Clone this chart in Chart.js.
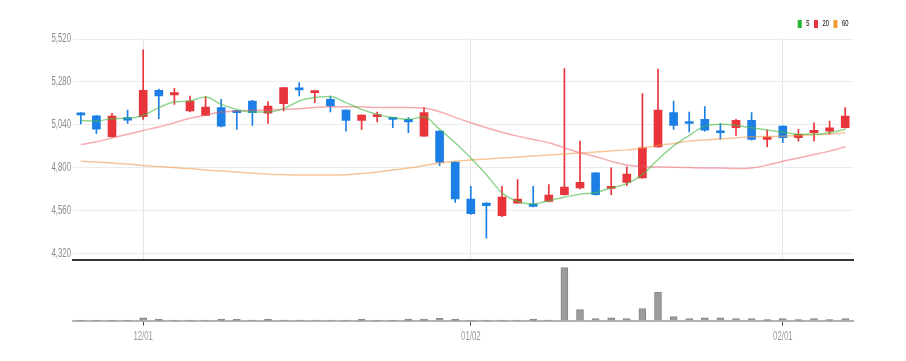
<!DOCTYPE html>
<html><head><meta charset="utf-8">
<script src="https://cdn.jsdelivr.net/npm/chart.js@4.4.1/dist/chart.umd.min.js"></script>
<style>
html,body{margin:0;padding:0;background:#fff;width:906px;height:361px;overflow:hidden}
#wrapTop{position:absolute;left:0;top:0;width:906px;height:261px}
#wrapVol{position:absolute;left:0;top:261px;width:906px;height:100px}
</style></head><body>
<div id="wrapTop"><canvas id="top"></canvas></div>
<div id="wrapVol"><canvas id="vol"></canvas></div>
<script>
const dates = ['11/25','11/26','11/27','11/28','12/01','12/02','12/03','12/04','12/05','12/08','12/09','12/10','12/11','12/12','12/15','12/16','12/17','12/18','12/19','12/22','12/23','12/24','12/26','12/29','12/30','01/02','01/05','01/06','01/07','01/08','01/09','01/12','01/13','01/14','01/15','01/16','01/19','01/20','01/21','01/22','01/23','01/26','01/27','01/28','01/29','02/01','02/02','02/03','02/04','02/05'];
const openP  = [5105,5090,4973,5080,5085,5233,5207,5117,5092,5136,5117,5173,5104,5158,5244,5220,5182,5122,5064,5085,5080,5070,4976,5004,4830,4624,4601,4530,4601,4596,4610,4648,4686,4770,4683,4717,4742,4916,5108,5055,5070,5004,5023,5064,4957,5032,4967,4995,5004,5023];
const highP  = [5108,5092,5104,5122,5460,5239,5244,5201,5198,5182,5120,5176,5170,5250,5276,5231,5201,5124,5096,5111,5082,5080,5136,5006,4832,4695,4603,4695,4732,4695,4704,5355,4948,4772,4798,4804,5215,5351,5173,5111,5141,5047,5070,5108,5010,5034,5014,5051,5060,5136];
const lowP   = [5045,4990,4970,5047,5070,5074,5154,5111,5090,5028,5014,5036,5047,5117,5201,5164,5111,5004,5014,5055,5023,4995,4974,4810,4605,4538,4404,4525,4600,4580,4608,4645,4680,4645,4648,4699,4740,4914,5014,5000,5004,4957,4980,4954,4916,4939,4948,4948,4986,5020];
const closeP = [5095,5015,5089,5066,5233,5201,5220,5173,5139,5032,5108,5108,5145,5248,5235,5229,5145,5064,5094,5094,5070,5055,5108,4830,4624,4541,4586,4635,4624,4582,4646,4691,4717,4648,4695,4764,4911,5122,5036,5047,5010,4995,5064,4957,4970,4967,4986,5008,5023,5089];
const ma5  = [5064,5060,5074,5076,5092,5136,5167,5173,5195,5154,5126,5111,5111,5130,5173,5192,5198,5164,5126,5098,5080,5070,5084,5014,4939,4854,4760,4658,4610,4596,4614,4634,4651,4659,4686,4710,4760,4845,4921,4980,5032,5042,5036,5023,5010,4998,4986,4986,4995,5014];
const ma20 = [4929,4944,4965,4986,5008,5027,5051,5076,5094,5111,5117,5121,5122,5126,5130,5137,5141,5141,5140,5137,5136,5136,5133,5113,5081,5051,5023,4998,4976,4957,4939,4911,4883,4862,4835,4814,4806,4803,4802,4800,4798,4797,4794,4798,4814,4835,4854,4873,4892,4916];
const ma60 = [4835,4831,4825,4820,4811,4806,4800,4794,4786,4780,4775,4769,4763,4760,4758,4758,4758,4760,4766,4775,4786,4797,4811,4825,4835,4842,4848,4853,4859,4865,4870,4876,4881,4887,4893,4899,4910,4924,4935,4948,4955,4961,4966,4973,4974,4976,4980,4984,4988,4995];
const volume = [20,20,20,20,100,55,20,20,20,55,55,20,55,20,20,20,20,20,55,20,20,55,55,90,55,20,20,20,20,55,20,2000,412,75,100,75,450,1076,150,75,100,100,75,75,40,75,40,75,40,75];
const priceTicks = [4320,4560,4800,5040,5280,5520];
const tickIdx  = [4,25,45];
const tickText = ['12/01','01/02','02/01'];
const maNames = ['5','20','60'];

const UP = '#e8343b', DOWN = '#1b7fe6';
const FONT = "'Liberation Sans',Arial,sans-serif";
const SQUEEZE = 0.65;
const candleColors = openP.map((o,i)=> closeP[i] >= o ? UP : DOWN);
const maLine = ['rgba(70,185,70,0.6)','rgba(236,90,100,0.5)','rgba(242,150,70,0.55)'];
const maSolid = ['#22b52b','#e8343b','#f29a38'];

// narrow (condensed) text rendering, like the reference's squeezed labels
const squeezeText = {
  id: 'squeezeText',
  beforeInit(chart) {
    const ctx = chart.ctx, f = ctx.fillText, m = ctx.measureText;
    ctx.fillText = function(t, x, y, mw) {
      this.save(); this.translate(x, y); this.scale(SQUEEZE, 1);
      if (mw === undefined) f.call(this, t, 0, 0); else f.call(this, t, 0, 0, mw / SQUEEZE);
      this.restore();
    };
    ctx.measureText = function(t) {
      const r = m.call(this, t);
      return {width: r.width * SQUEEZE, actualBoundingBoxAscent: r.actualBoundingBoxAscent, actualBoundingBoxDescent: r.actualBoundingBoxDescent,
              actualBoundingBoxLeft: r.actualBoundingBoxLeft * SQUEEZE, actualBoundingBoxRight: r.actualBoundingBoxRight * SQUEEZE};
    };
  }
};

Chart.defaults.animation = false;

new Chart(document.getElementById('top'), {
  type: 'bar',
  plugins: [squeezeText],
  data: {
    labels: dates,
    datasets: [
      {label:'wick', data: lowP.map((l,i)=>[l, highP[i]]), backgroundColor: candleColors, barThickness: 1, grouped:false, order: 3},
      {label:'body', data: openP.map((o,i)=>[o, closeP[i]]), backgroundColor: candleColors, barThickness: 8, minBarLength: 2, grouped:false, order: 2},
      {type:'line', label:maNames[0], data: ma5, borderColor: maLine[0], backgroundColor: maSolid[0], borderWidth:1.5, pointRadius:0, cubicInterpolationMode:'monotone', order:0},
      {type:'line', label:maNames[1], data: ma20, borderColor: maLine[1], backgroundColor: maSolid[1], borderWidth:1.5, pointRadius:0, cubicInterpolationMode:'monotone', order:0},
      {type:'line', label:maNames[2], data: ma60, borderColor: maLine[2], backgroundColor: maSolid[2], borderWidth:1.5, pointRadius:0, cubicInterpolationMode:'monotone', order:0}
    ]
  },
  options: {
    responsive: true, maintainAspectRatio: false,
    layout: {padding: {left:0, right:53, top:15, bottom:1}},
    plugins: {
      tooltip: {enabled:false},
      legend: {
        display: true, position: 'top', align: 'end',
        labels: {
          boxWidth: 4, boxHeight: 8, padding: 4.5, color: '#888',
          font: {size: 9, family: FONT},
          generateLabels: () => maNames.map((n,i)=>({text:n, fillStyle:maSolid[i], strokeStyle:maSolid[i], lineWidth:0, hidden:false, datasetIndex:2+i}))
        }
      }
    },
    scales: {
      x: {
        type: 'category', offset: true,
        afterFit: s => { s.height = 0; s.paddingLeft = 0; s.paddingRight = 0; },
        grid: {offset:false, drawTicks:false, color: c => tickIdx.includes(c.index) ? '#e6e6e6' : 'rgba(0,0,0,0)'},
        ticks: {display:false, autoSkip:false},
        border: {display:true, color:'#333', width:2}
      },
      y: {
        min: 4282, max: 5523,
        afterFit: s => { s.width = 73; s.paddingTop = 0; s.paddingBottom = 0; },
        afterBuildTicks: s => { s.ticks = priceTicks.map(v=>({value:v})); },
        grid: {color:'#ececec', drawTicks:false},
        border: {display:false},
        ticks: {padding: 2, color:'#8a8a8a', font:{size:12, family:FONT}, callback: v => Number(v).toLocaleString('en-US')}
      }
    }
  }
});

new Chart(document.getElementById('vol'), {
  type: 'bar',
  plugins: [squeezeText],
  data: {
    labels: dates,
    datasets: [{label:'volume', data: volume, backgroundColor:'#9c9c9c', borderColor:'#858585', borderWidth:1, barThickness:7}]
  },
  options: {
    responsive: true, maintainAspectRatio: false,
    layout: {padding: {left:73, right:53, top:0, bottom:13}},
    plugins: {legend:{display:false}, tooltip:{enabled:false}},
    scales: {
      x: {
        type:'category', offset:true,
        afterFit: s => { s.paddingLeft = 0; s.paddingRight = 0; },
        grid: {offset:false, drawOnChartArea:false, drawTicks:true, tickLength:5, tickColor: c => tickIdx.includes(c.index) ? '#444' : 'rgba(0,0,0,0)'},
        border: {display:true, color:'#b3b3b3', width:2},
        ticks: {autoSkip:false, maxRotation:0, padding:4, color:'#999', font:{size:12, family:FONT},
          callback: (v,i) => { const k = tickIdx.indexOf(i); return k >= 0 ? tickText[k] : ''; }}
      },
      y: {display:false, min:0, max:2250}
    }
  }
});
</script>
</body></html>
